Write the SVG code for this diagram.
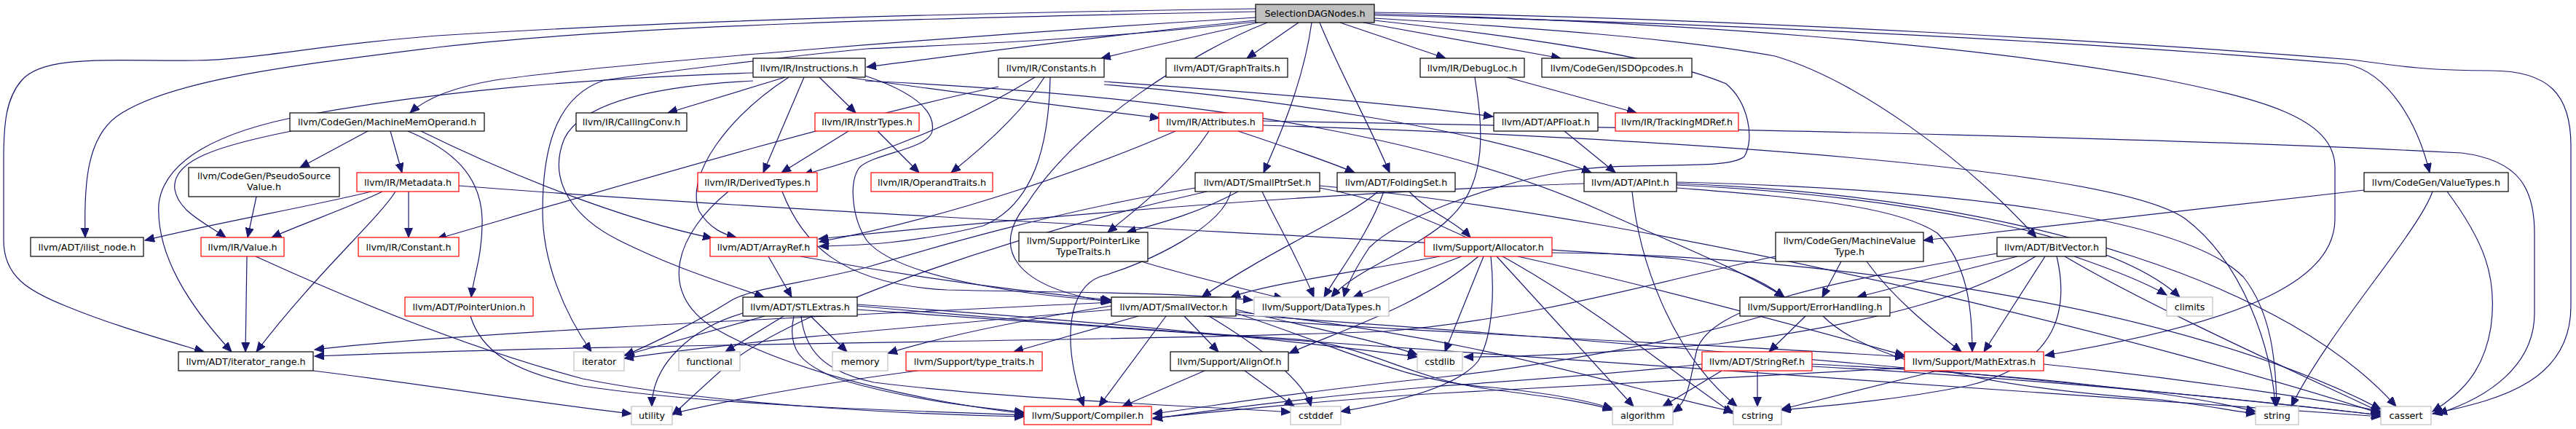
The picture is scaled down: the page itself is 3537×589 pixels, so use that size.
<svg xmlns="http://www.w3.org/2000/svg" width="3537" height="589" viewBox="0 0 3537 589">
<style>
.e path{fill:none;stroke:#191970;stroke-width:1.2;marker-end:url(#a)}
.n rect{fill:#fff;stroke:#000;stroke-width:1.2}
.r rect{stroke:#f00}
.s rect{stroke:#bfbfbf}
.root rect{fill:#bfbfbf}
text{font-family:"DejaVu Sans",sans-serif;font-size:12.7px;text-anchor:middle;fill:#000}
</style>
<defs>
<marker id="a" markerUnits="userSpaceOnUse" markerWidth="14" markerHeight="12" refX="13" refY="5.5" orient="auto"><path d="M0,0 L13,5.5 L0,11 z" fill="#191970" stroke="#191970" stroke-width="1"/></marker>
</defs>
<rect width="3537" height="589" fill="#fff"/>
<g id="edges" class="e">
<path d="M1724,16 C1300,24 850,35 600,65 C400,90 230,110 160,160 C120,190 115,250 117,326"/>
<path d="M1724,12 C1300,18 900,30 600,49 C450,60 350,82 268,83 C150,84 60,75 30,110 C8,135 5,170 5,220 L5,330 C5,380 40,400 90,420 C150,445 220,465 280,483"/>
<path d="M1724,24 C1300,50 820,90 680,110 C620,120 585,135 563,155"/>
<path d="M1724,28 C1500,50 1300,78 1190,92"/>
<path d="M1727,31 C1650,48 1570,66 1512,80"/>
<path d="M1783,31 L1712,80"/>
<path d="M1840,31 L1985,80"/>
<path d="M1872,31 L2143,80"/>
<path d="M1801,31 C1790,110 1760,180 1735,237"/>
<path d="M1812,31 C1840,100 1880,170 1908,237"/>
<path d="M1887,21 C2400,32 2900,60 3222,88 C3280,100 3320,170 3336,237"/>
<path d="M1887,17 C2400,25 2950,60 3230,82 C3300,92 3340,97 3420,97 C3500,97 3530,130 3530,200 L3530,420 C3530,520 3440,548 3340,568"/>
<path d="M1887,25 C2100,38 2300,52 2437,77 C2550,110 2700,220 2796,326"/>
<path d="M1724,30 C1500,55 1300,62 1190,67 C1100,75 900,100 830,110 C770,130 745,190 745,290 C745,360 775,430 812,483"/>
<path d="M1740,31 C1640,70 1480,170 1410,280 C1360,340 1390,395 1526,415"/>
<path d="M1887,28 C2150,57 2300,85 2370,115 C2400,140 2410,190 2395,215 C2370,235 2250,220 2150,235 C2040,255 1920,300 1880,340 C1860,370 1850,390 1845,408"/>
<path d="M1887,19 C2300,30 2700,60 2960,107 C3100,135 3206,160 3206,230 L3206,300 C3206,380 3100,440 2808,488"/>
<path d="M1078,106 L917,155"/>
<path d="M1125,106 L1175,155"/>
<path d="M1104,106 L1048,237"/>
<path d="M1162,106 C1300,125 1450,145 1592,162"/>
<path d="M1083,106 C1000,160 940,240 960,290 C975,315 995,322 1011,326"/>
<path d="M1034,100 C800,108 600,125 420,158 C300,180 225,220 218,280 C214,350 260,420 318,483"/>
<path d="M1188,104 C1250,125 1285,150 1280,180 C1275,205 1200,210 1180,230 C1165,250 1170,300 1190,330 C1230,380 1400,405 1524,413"/>
<path d="M1188,111 C1700,135 2000,200 2200,290 C2300,335 2390,370 2450,408"/>
<path d="M1034,111 C900,118 800,140 775,190 C750,250 790,300 850,330 C930,370 1000,390 1049,408"/>
<path d="M1516,112 C1700,125 1900,140 2050,160"/>
<path d="M1516,116 C1750,135 2050,180 2185,237"/>
<path d="M1442,106 C1440,200 1420,280 1350,310 C1250,335 1180,337 1125,338"/>
<path d="M1371,119 C1150,165 800,270 600,328"/>
<path d="M1421,106 C1350,150 1250,200 1103,240"/>
<path d="M1434,106 C1400,160 1340,210 1306,237"/>
<path d="M2069,106 L2247,155"/>
<path d="M2025,106 C2035,170 2045,250 1990,300 C1950,340 1860,370 1828,408"/>
<path d="M505,180 L412,230"/>
<path d="M536,180 L552,237"/>
<path d="M400,180 C300,200 235,220 240,260 C245,290 280,305 310,326"/>
<path d="M560,180 C620,205 660,240 662,300 C663,350 650,380 647,408"/>
<path d="M578,180 C700,240 850,300 978,327"/>
<path d="M352,270 L340,326"/>
<path d="M510,263 C420,285 300,305 199,330"/>
<path d="M525,263 C480,285 420,305 373,326"/>
<path d="M543,263 C520,300 430,380 352,483"/>
<path d="M561,263 L561,326"/>
<path d="M630,255 C1200,300 2000,330 2300,355 C2380,365 2420,385 2450,408"/>
<path d="M1165,180 L1073,237"/>
<path d="M1205,180 L1262,237"/>
<path d="M1614,180 C1500,230 1300,300 1125,332"/>
<path d="M1700,180 C1760,200 1820,220 1860,237"/>
<path d="M1660,180 C1620,240 1570,280 1521,319"/>
<path d="M1734,166 C2200,175 2900,185 3380,210 C3460,220 3480,260 3480,320 L3480,430 C3480,500 3420,545 3347,568"/>
<path d="M1734,172 C2300,190 2900,230 3000,300 C3080,360 3120,480 3124,558"/>
<path d="M1000,263 C930,320 900,400 980,450 C1100,520 1300,555 1406,568"/>
<path d="M1074,263 C1100,330 1150,390 1300,398 C1450,402 1600,400 1720,412"/>
<path d="M1700,263 C1650,290 1600,305 1547,319"/>
<path d="M1733,263 C1750,300 1780,350 1804,408"/>
<path d="M1690,263 C1680,310 1580,360 1510,380 C1470,395 1455,460 1488,558"/>
<path d="M1641,258 C1450,290 1280,340 1190,367 C1100,390 1030,395 1000,415 C960,440 900,470 858,488"/>
<path d="M1657,263 C1400,320 1100,420 1000,500 C960,535 940,555 923,570"/>
<path d="M1812,258 C2050,300 2250,480 2380,568"/>
<path d="M1812,255 C2300,300 3000,480 3269,568"/>
<path d="M1892,263 C1850,300 1750,340 1650,408"/>
<path d="M1900,263 C1880,320 1840,370 1818,408"/>
<path d="M1935,263 C1960,290 2000,305 2019,326"/>
<path d="M2148,180 L2218,237"/>
<path d="M2175,252 C1800,265 1400,300 1124,328"/>
<path d="M2302,258 C2450,270 2600,280 2660,320 C2700,360 2708,420 2708,483"/>
<path d="M2302,254 C2600,268 2900,320 2993,408"/>
<path d="M2241,263 C2250,350 2290,480 2385,558"/>
<path d="M2302,250 C2700,260 3000,300 3080,380 C3120,430 3125,500 3126,558"/>
<path d="M2302,252 C2800,270 3150,400 3290,558"/>
<path d="M3246,261 C3000,290 2800,310 2641,330"/>
<path d="M3340,263 C3320,320 3200,450 3146,558"/>
<path d="M3360,263 C3410,330 3430,380 3420,450 C3410,510 3380,540 3340,565"/>
<path d="M2528,359 L2502,408"/>
<path d="M2563,359 C2600,410 2650,450 2693,483"/>
<path d="M2438,352 C2300,380 2100,440 1900,455 C1500,470 900,470 432,489"/>
<path d="M2770,352 L2550,408"/>
<path d="M2795,352 C2720,400 2600,440 2360,472 C2200,485 2080,490 2010,490"/>
<path d="M2808,352 L2724,483"/>
<path d="M2824,352 C2840,420 2830,500 2700,530 C2600,550 2500,558 2446,563"/>
<path d="M2835,352 C2950,420 3150,510 3269,566"/>
<path d="M2848,352 C2900,370 2950,390 2975,405"/>
<path d="M2742,348 C2500,390 2350,420 2330,480 C2320,520 2320,550 2297,566"/>
<path d="M1977,352 C1850,375 1740,390 1690,408"/>
<path d="M2007,352 L1858,408"/>
<path d="M2030,352 C1950,420 1850,450 1770,485"/>
<path d="M2037,352 L1984,483"/>
<path d="M2047,352 C2052,400 2050,460 2030,495 C2000,535 1900,555 1841,565"/>
<path d="M2055,352 L2243,558"/>
<path d="M2084,352 C2300,400 2550,470 2615,488"/>
<path d="M2131,347 C2500,350 3000,420 3269,562"/>
<path d="M1567,359 C1620,375 1700,395 1762,410"/>
<path d="M646,434 C660,480 700,510 800,530 C1000,560 1300,565 1406,570"/>
<path d="M1020,430 C950,450 895,500 895,558"/>
<path d="M1050,434 L857,488"/>
<path d="M1076,434 L996,483"/>
<path d="M1113,434 L1163,483"/>
<path d="M1090,434 C1080,480 1100,500 1150,520 C1250,550 1350,560 1406,566"/>
<path d="M1100,434 C1105,480 1130,510 1200,525 C1400,550 1700,560 1772,566"/>
<path d="M1177,420 C1400,440 1600,455 1770,465 C1880,472 1930,520 2050,535 C2130,545 2180,552 2214,563"/>
<path d="M1177,418 C1500,440 1800,470 1946,490"/>
<path d="M1177,425 C2000,480 2800,540 3269,572"/>
<path d="M1563,434 L1392,483"/>
<path d="M1601,434 L1509,558"/>
<path d="M1626,434 L1673,483"/>
<path d="M1653,434 C2000,460 2400,475 2615,490"/>
<path d="M1526,420 C1400,440 1300,460 1219,485"/>
<path d="M1526,425 C1300,445 1000,470 857,492"/>
<path d="M1526,415 C1000,440 600,460 432,480"/>
<path d="M1660,434 C1720,470 1790,520 1800,558"/>
<path d="M1697,425 C1800,450 1900,470 1946,487"/>
<path d="M1697,430 C1850,480 1930,525 2050,532 C2130,540 2180,550 2214,561"/>
<path d="M1697,428 C2050,465 2250,540 2380,565"/>
<path d="M1697,432 C2400,480 3000,540 3269,570"/>
<path d="M2479,434 L2429,483"/>
<path d="M2420,434 C2300,470 2100,505 1977,518 C1800,535 1650,560 1583,568"/>
<path d="M2503,434 C2560,490 2700,530 2960,548 C3020,555 3070,565 3097,568"/>
<path d="M2413,509 L2413,558"/>
<path d="M2364,509 L2283,558"/>
<path d="M2337,500 C2200,515 2050,525 1977,530 C1800,545 1650,565 1583,575"/>
<path d="M2488,503 C2800,520 3100,550 3269,570"/>
<path d="M2488,500 C2800,515 3000,540 3097,565"/>
<path d="M2660,509 L2446,562"/>
<path d="M2615,505 C2450,515 2150,530 1977,540 C1800,550 1650,568 1583,574"/>
<path d="M2806,500 C3000,520 3200,550 3269,565"/>
<path d="M1654,509 L1541,558"/>
<path d="M1709,509 L1777,558"/>
<path d="M1260,509 C1100,530 1000,550 923,568"/>
<path d="M430,509 C600,530 750,555 867,568"/>
<path d="M339,352 L337,483"/>
<path d="M351,352 C500,420 650,480 800,520 C1000,560 1300,570 1406,572"/>
<path d="M1055,352 L1087,408"/>
<path d="M1099,352 C1250,380 1400,400 1526,412"/>
</g>
<g id="n0" class="n root"><rect x="1724" y="6" width="163" height="25"/><text x="1805.5" y="23">SelectionDAGNodes.h</text></g>
<g id="n1" class="n"><rect x="1034" y="80" width="154" height="26"/><text x="1111" y="97.5">llvm/IR/Instructions.h</text></g>
<g id="n2" class="n"><rect x="1371" y="80" width="145" height="26"/><text x="1443.5" y="97.5">llvm/IR/Constants.h</text></g>
<g id="n3" class="n"><rect x="1601" y="80" width="167" height="26"/><text x="1684.5" y="97.5">llvm/ADT/GraphTraits.h</text></g>
<g id="n4" class="n"><rect x="1950" y="80" width="143" height="26"/><text x="2021.5" y="97.5">llvm/IR/DebugLoc.h</text></g>
<g id="n5" class="n"><rect x="2117" y="80" width="206" height="26"/><text x="2220" y="97.5">llvm/CodeGen/ISDOpcodes.h</text></g>
<g id="n6" class="n"><rect x="398" y="155" width="267" height="25"/><text x="531.5" y="172">llvm/CodeGen/MachineMemOperand.h</text></g>
<g id="n7" class="n"><rect x="791" y="155" width="152" height="25"/><text x="867" y="172">llvm/IR/CallingConv.h</text></g>
<g id="n8" class="n r"><rect x="1119" y="155" width="143" height="25"/><text x="1190.5" y="172">llvm/IR/InstrTypes.h</text></g>
<g id="n9" class="n r"><rect x="1591" y="155" width="143" height="25"/><text x="1662.5" y="172">llvm/IR/Attributes.h</text></g>
<g id="n10" class="n"><rect x="2051" y="155" width="143" height="25"/><text x="2122.5" y="172">llvm/ADT/APFloat.h</text></g>
<g id="n11" class="n r"><rect x="2218" y="155" width="169" height="25"/><text x="2302.5" y="172">llvm/IR/TrackingMDRef.h</text></g>
<g id="n12" class="n"><rect x="259" y="230" width="207" height="40"/><text x="362.5" y="246">llvm/CodeGen/PseudoSource</text><text x="362.5" y="261">Value.h</text></g>
<g id="n13" class="n r"><rect x="490" y="237" width="140" height="26"/><text x="560" y="254.5">llvm/IR/Metadata.h</text></g>
<g id="n14" class="n r"><rect x="958" y="237" width="164" height="26"/><text x="1040" y="254.5">llvm/IR/DerivedTypes.h</text></g>
<g id="n15" class="n r"><rect x="1196" y="237" width="167" height="26"/><text x="1279.5" y="254.5">llvm/IR/OperandTraits.h</text></g>
<g id="n16" class="n"><rect x="1641" y="237" width="171" height="26"/><text x="1726.5" y="254.5">llvm/ADT/SmallPtrSet.h</text></g>
<g id="n17" class="n"><rect x="1836" y="237" width="162" height="26"/><text x="1917" y="254.5">llvm/ADT/FoldingSet.h</text></g>
<g id="n18" class="n"><rect x="2175" y="237" width="127" height="26"/><text x="2238.5" y="254.5">llvm/ADT/APInt.h</text></g>
<g id="n19" class="n"><rect x="3246" y="237" width="198" height="26"/><text x="3345" y="254.5">llvm/CodeGen/ValueTypes.h</text></g>
<g id="n20" class="n"><rect x="42" y="326" width="155" height="26"/><text x="119.5" y="343.5">llvm/ADT/ilist_node.h</text></g>
<g id="n21" class="n r"><rect x="276" y="326" width="114" height="26"/><text x="333" y="343.5">llvm/IR/Value.h</text></g>
<g id="n22" class="n r"><rect x="492" y="326" width="138" height="26"/><text x="561" y="343.5">llvm/IR/Constant.h</text></g>
<g id="n23" class="n r"><rect x="975" y="326" width="147" height="26"/><text x="1048.5" y="343.5">llvm/ADT/ArrayRef.h</text></g>
<g id="n24" class="n"><rect x="1399" y="319" width="177" height="40"/><text x="1487.5" y="335">llvm/Support/PointerLike</text><text x="1487.5" y="350">TypeTraits.h</text></g>
<g id="n25" class="n r"><rect x="1956" y="326" width="175" height="26"/><text x="2043.5" y="343.5">llvm/Support/Allocator.h</text></g>
<g id="n26" class="n"><rect x="2438" y="319" width="203" height="40"/><text x="2539.5" y="335">llvm/CodeGen/MachineValue</text><text x="2539.5" y="350">Type.h</text></g>
<g id="n27" class="n"><rect x="2742" y="326" width="150" height="26"/><text x="2817" y="343.5">llvm/ADT/BitVector.h</text></g>
<g id="n28" class="n r"><rect x="556" y="408" width="176" height="26"/><text x="644" y="425.5">llvm/ADT/PointerUnion.h</text></g>
<g id="n29" class="n"><rect x="1020" y="408" width="157" height="26"/><text x="1098.5" y="425.5">llvm/ADT/STLExtras.h</text></g>
<g id="n30" class="n"><rect x="1526" y="408" width="171" height="26"/><text x="1611.5" y="425.5">llvm/ADT/SmallVector.h</text></g>
<g id="n31" class="n s"><rect x="1722" y="408" width="185" height="26"/><text x="1814.5" y="425.5">llvm/Support/DataTypes.h</text></g>
<g id="n32" class="n"><rect x="2389" y="408" width="206" height="26"/><text x="2492" y="425.5">llvm/Support/ErrorHandling.h</text></g>
<g id="n33" class="n s"><rect x="2975" y="408" width="63" height="26"/><text x="3006.5" y="425.5">climits</text></g>
<g id="n34" class="n"><rect x="245" y="483" width="185" height="26"/><text x="337.5" y="500.5">llvm/ADT/iterator_range.h</text></g>
<g id="n35" class="n s"><rect x="788" y="483" width="69" height="26"/><text x="822.5" y="500.5">iterator</text></g>
<g id="n36" class="n s"><rect x="932" y="483" width="84" height="26"/><text x="974" y="500.5">functional</text></g>
<g id="n37" class="n s"><rect x="1143" y="483" width="76" height="26"/><text x="1181" y="500.5">memory</text></g>
<g id="n38" class="n r"><rect x="1244" y="483" width="187" height="26"/><text x="1337.5" y="500.5">llvm/Support/type_traits.h</text></g>
<g id="n39" class="n"><rect x="1607" y="483" width="162" height="26"/><text x="1688" y="500.5">llvm/Support/AlignOf.h</text></g>
<g id="n40" class="n s"><rect x="1946" y="483" width="62" height="26"/><text x="1977" y="500.5">cstdlib</text></g>
<g id="n41" class="n r"><rect x="2337" y="483" width="151" height="26"/><text x="2412.5" y="500.5">llvm/ADT/StringRef.h</text></g>
<g id="n42" class="n r"><rect x="2615" y="483" width="191" height="26"/><text x="2710.5" y="500.5">llvm/Support/MathExtras.h</text></g>
<g id="n43" class="n s"><rect x="867" y="558" width="56" height="25"/><text x="895" y="575">utility</text></g>
<g id="n44" class="n r"><rect x="1406" y="558" width="175" height="25"/><text x="1493.5" y="575">llvm/Support/Compiler.h</text></g>
<g id="n45" class="n s"><rect x="1772" y="558" width="69" height="25"/><text x="1806.5" y="575">cstddef</text></g>
<g id="n46" class="n s"><rect x="2214" y="558" width="83" height="25"/><text x="2255.5" y="575">algorithm</text></g>
<g id="n47" class="n s"><rect x="2380" y="558" width="66" height="25"/><text x="2413" y="575">cstring</text></g>
<g id="n48" class="n s"><rect x="3097" y="558" width="59" height="25"/><text x="3126.5" y="575">string</text></g>
<g id="n49" class="n s"><rect x="3269" y="558" width="69" height="25"/><text x="3303.5" y="575">cassert</text></g>
</svg>
